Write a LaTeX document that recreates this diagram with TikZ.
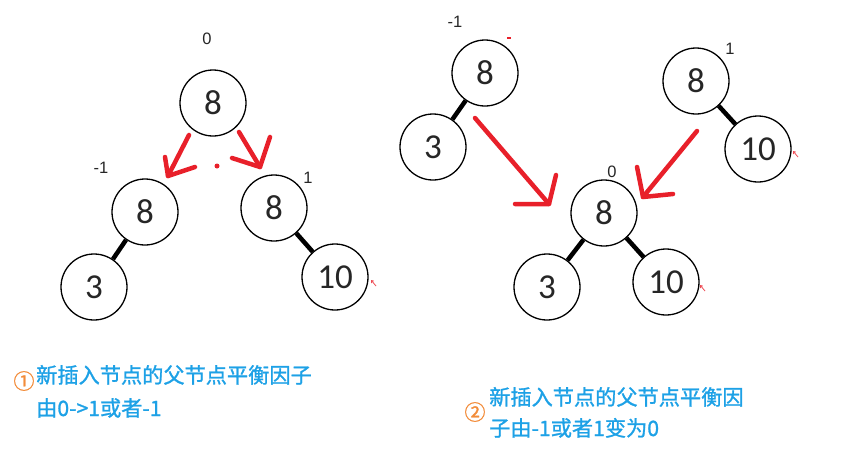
\documentclass[tikz,border=0pt]{standalone}
\usepackage{fontspec}
\setmainfont{Liberation Sans}
\newfontfamily\cjk[FakeBold=1.2]{Noto Sans CJK SC}
\newfontfamily\cjkn{Noto Sans CJK SC}
\newfontfamily\numfont{Carlito}
\usetikzlibrary{arrows.meta}
\definecolor{arrred}{HTML}{E8202A}
\definecolor{txtblue}{HTML}{1DA1E6}
\definecolor{numorange}{HTML}{F28C3A}
\begin{document}
\begin{tikzpicture}[x=1pt,y=-1pt,
  tnode/.style={circle,draw=black,line width=1.3pt,minimum size=66pt,inner sep=0pt,
    font=\numfont\fontsize{35}{35}\selectfont,text=black!85},
  treeedge/.style={line width=4.5pt,black},
  redarr/.style={arrred,line width=4.5pt,line cap=round,line join=round},
  bf/.style={font=\fontsize{16.5}{16.5}\selectfont,text=black!85,inner sep=0pt},
  desc/.style={anchor=base west,text=txtblue,font=\cjk\fontsize{21.2}{21.2}\selectfont,inner sep=0pt},
  circnum/.style={text=numorange,font=\cjk\fontsize{21}{21}\selectfont,inner sep=0pt},
  tinymark/.style={arrred!80,line width=0.8pt,-{Straight Barb[length=2pt,width=3pt]}}]
\path[use as bounding box] (0,0) rectangle (850,453);

% ---- left trees ----
\node[tnode] (a1) at (213,103) {8};
\node[tnode] (a2) at (145,212) {8};
\node[tnode] (a3) at (274,208) {8};
\node[tnode] (a4) at (94,287) {3};
\node[tnode] (a5) at (335,277) {10};
\node[bf] (la1) at (207,39) {0};
\node[bf] (la2) at (101,168) {-1};
\node[bf] (la3) at (308,178) {1};
\draw[treeedge] (a2) -- (a4);
\draw[treeedge] (a3) -- (a5);

\coordinate (ra1s) at (189,135); \coordinate (ra1t) at (168,176);
\coordinate (ra1a) at (165,157); \coordinate (ra1b) at (195,167);
\draw[redarr] (ra1s) -- (ra1t);
\draw[redarr] (ra1a) -- (ra1t) -- (ra1b);
\coordinate (ra2s) at (239,132); \coordinate (ra2t) at (260,167);
\coordinate (ra2a) at (270,137); \coordinate (ra2b) at (232,158);
\draw[redarr] (ra2s) -- (ra2t);
\draw[redarr] (ra2a) -- (ra2t) -- (ra2b);
\fill[arrred] (217,166) circle (2.5pt);
\coordinate (m1s) at (376,286); \coordinate (m1e) at (371,280);
\draw[tinymark] (m1s) -- (m1e);

% ---- right trees ----
\node[tnode] (b1) at (485,73) {8};
\node[tnode] (b2) at (433,147) {3};
\node[tnode] (c1) at (696,81) {8};
\node[tnode] (c2) at (758,149) {10};
\node[tnode] (d1) at (604,213) {8};
\node[tnode] (d2) at (547,287) {3};
\node[tnode] (d3) at (666,282) {10};
\node[bf] (lb1) at (455,22) {-1};
\node[bf] (lc1) at (730,49) {1};
\node[bf] (ld1) at (612,172) {0};
\draw[treeedge] (b1) -- (b2);
\draw[treeedge] (c1) -- (c2);
\draw[treeedge] (d1) -- (d2);
\draw[treeedge] (d1) -- (d3);

\coordinate (rb1s) at (475,118); \coordinate (rb1t) at (549,204);
\coordinate (rb1a) at (556,175); \coordinate (rb1b) at (515,204);
\draw[redarr] (rb1s) -- (rb1t);
\draw[redarr] (rb1a) -- (rb1t) -- (rb1b);
\coordinate (rb2s) at (697,131); \coordinate (rb2t) at (643,197);
\coordinate (rb2a) at (637,167); \coordinate (rb2b) at (673,194);
\draw[redarr] (rb2s) -- (rb2t);
\draw[redarr] (rb2a) -- (rb2t) -- (rb2b);
\draw[arrred,line width=2pt] (507,38) -- (511,38);
\coordinate (m2s) at (798,157); \coordinate (m2e) at (793,151);
\draw[tinymark] (m2s) -- (m2e);
\coordinate (m3s) at (705,291); \coordinate (m3e) at (700,285);
\draw[tinymark] (m3s) -- (m3e);

% ---- descriptions ----
\node[circnum] (n1) at (24,381) {①};
\node[desc] (t1a) at (36,383) {新插入节点的父节点平衡因子};
\node[desc] (t1b) at (36,416) {由0->1或者-1};
\node[circnum] (n2) at (475,412) {②};
\node[desc] (t2a) at (489,405) {新插入节点的父节点平衡因};
\node[desc] (t2b) at (489,436) {子由-1或者1变为0};
\end{tikzpicture}
\end{document}
